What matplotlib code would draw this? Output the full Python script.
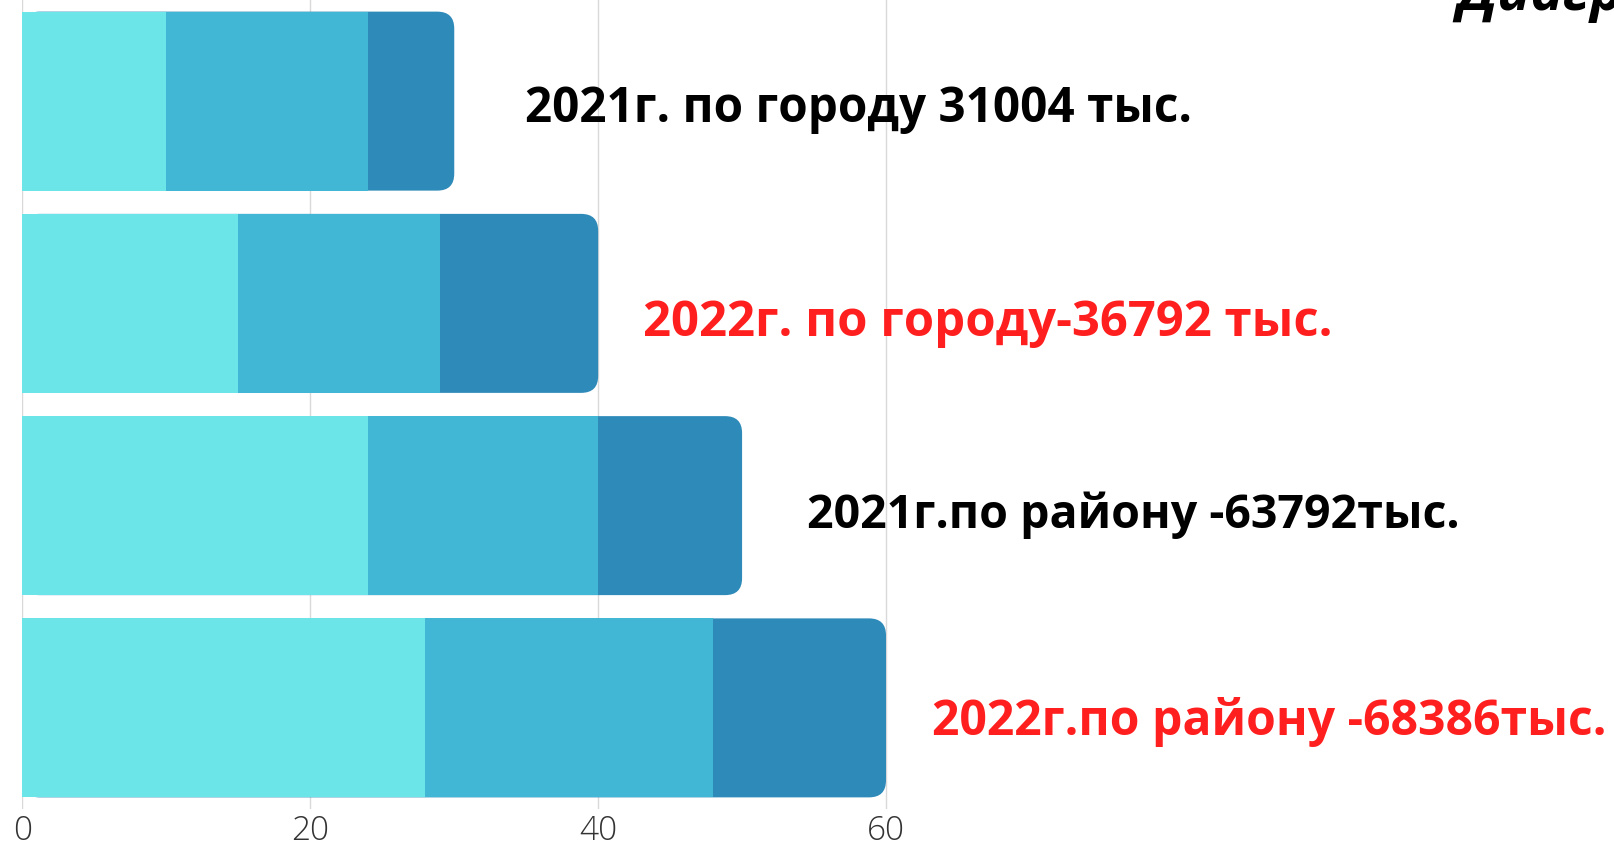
import matplotlib.pyplot as plt
from matplotlib.patches import FancyBboxPatch

# data
labels = ["2021г. по городу 31004 тыс.", "2022г. по городу-36792 тыс.",
          "2021г.по району -63792тыс.", "2022г.по району -68386тыс."]
seg1 = [10, 15, 24, 28]
seg2 = [14, 14, 16, 20]
seg3 = [6, 11, 10, 12]
label_colors = ["black", "#ff1f1f", "black", "#ff1f1f"]
ticks = [0, 20, 40, 60]

c1, c2, c3 = "#6ce5e8", "#42b6d5", "#2d8ab9"

W, H = 1615, 847
fig = plt.figure(figsize=(W / 100, H / 100), dpi=100)
left_px, bottom_px = 22.5, 809
ax = fig.add_axes([left_px / W, 1 - bottom_px / H, 1 - left_px / W, bottom_px / H])

px_per_unit = (886 - left_px) / 60
ax.set_xlim(0, (W - left_px) / px_per_unit)
ax.set_ylim(3.5, -0.5)

h = 0.885
y = list(range(len(seg1)))
totals = [a + b + c for a, b, c in zip(seg1, seg2, seg3)]

# rounded right end: full-length rounded patch underneath in the darkest colour
y_unit_px = bottom_px / 4
aspect = (1 / y_unit_px) / (1 / px_per_unit)
for yi, t in zip(y, totals):
    p = FancyBboxPatch((0, yi - h / 2), t, h,
                       boxstyle="round,pad=0,rounding_size=%f" % (17 / px_per_unit),
                       mutation_aspect=aspect, fc=c3, ec="none", zorder=2)
    ax.add_patch(p)

ax.barh(y, seg1, height=h, color=c1, zorder=3)
ax.barh(y, seg2, left=seg1, height=h, color=c2, zorder=3)

# text labels to the right of each bar
offsets = [(4.9, 0.04), (3.1, 0.10), (4.5, 0.05), (3.2, 0.07)]
sizes = [34.3, 35.3, 33.5, 34.7]
for yi, t, lab, col, (dx, dy), fs in zip(y, totals, labels, label_colors, offsets, sizes):
    ax.text(t + dx, yi + dy, lab, color=col, fontsize=fs, fontweight="bold",
            family=["Open Sans", "DejaVu Sans"], va="center", ha="left", zorder=4)

ax.set_xticks(ticks)
ax.set_yticks([])
ax.grid(axis="x", color="#d9d9d9", linewidth=1, zorder=0)
ax.tick_params(axis="x", length=0, pad=4, labelsize=24, labelcolor="#333333")
for lab in ax.get_xticklabels():
    lab.set_family(["Open Sans", "DejaVu Sans"])
    lab.set_fontweight("light")
for s in ax.spines.values():
    s.set_visible(False)

fig.text(1457 / W, 1 - 10 / H, "Диаграмма", fontsize=40, fontweight="bold",
         style="italic", family=["Open Sans", "DejaVu Sans"], va="baseline", ha="left")

fig.savefig("out.png", dpi=100)
